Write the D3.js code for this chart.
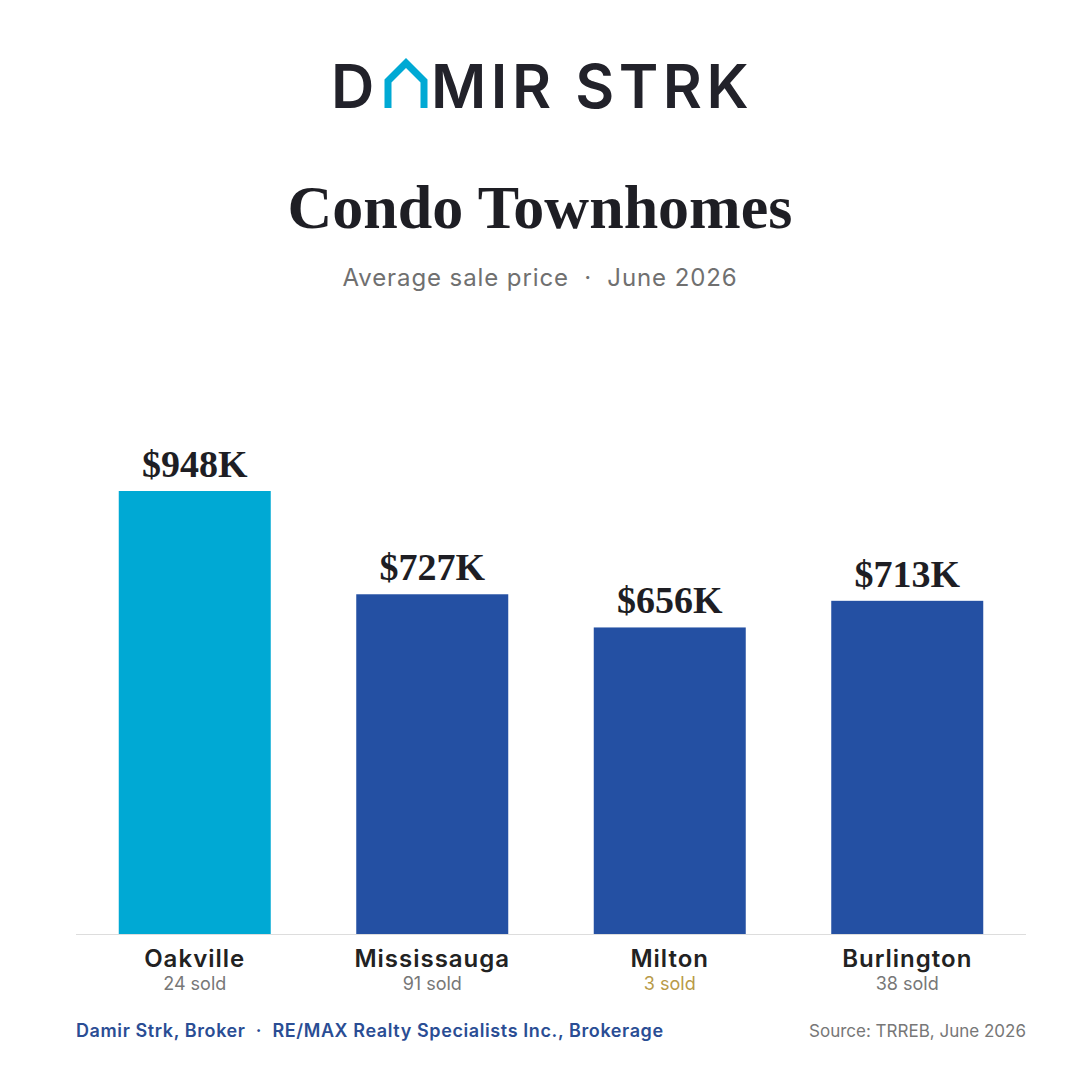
<!DOCTYPE html>
<html lang="en">
<head>
<meta charset="UTF-8">
<title>Condo Townhomes</title>
<script src="https://d3js.org/d3.v7.min.js"></script>
<style>
  body { margin: 0; background: #fff; }
  svg { display: block; }
</style>
</head>
<body>
<svg id="chart"></svg>
<script>
  // data
  var cities = ["Oakville", "Mississauga", "Milton", "Burlington"];
  var prices = [948, 727, 656, 713];        // average sale price, $K
  var soldCounts = [24, 91, 3, 38];
  var highlightCity = "Oakville";
  var lowSampleCity = "Milton";

  var W = 1080, H = 1080;
  var margin = { left: 76, right: 54, bottom: 146 };
  var serif = "'Liberation Serif', 'DejaVu Serif', serif";
  var sans = "'Inter', 'Noto Sans', sans-serif";
  var sep = "\u00a0\u00a0\u00b7\u00a0\u00a0";

  var svg = d3.select("#chart").attr("width", W).attr("height", H);
  svg.append("rect").attr("width", W).attr("height", H).attr("fill", "#fff");

  // logo: D + house shape + MIR STRK
  var logo = svg.append("g");
  logo.append("text")
      .attr("x", 331).attr("y", 108)
      .attr("font-family", sans).attr("font-weight", 600)
      .attr("font-size", 60).attr("fill", "#22222a")
      .text("D");
  logo.append("path")
      .attr("d", "M388,108 L388,81 L406,63 L424,81 L424,108")
      .attr("fill", "none").attr("stroke", "#00a9d4")
      .attr("stroke-width", 7).attr("stroke-linejoin", "miter");
  logo.append("text")
      .attr("x", 431).attr("y", 108)
      .attr("font-family", sans).attr("font-weight", 600)
      .attr("font-size", 60).attr("fill", "#22222a")
      .attr("letter-spacing", 4.5)
      .text("MIR STRK");

  // title
  svg.append("text")
      .attr("x", W / 2).attr("y", 228)
      .attr("text-anchor", "middle")
      .attr("font-family", serif).attr("font-weight", 700)
      .attr("font-size", 62).attr("fill", "#1e1e24")
      .text("Condo Townhomes");

  svg.append("text")
      .attr("x", W / 2).attr("y", 286)
      .attr("text-anchor", "middle")
      .attr("font-family", sans).attr("font-size", 24)
      .attr("letter-spacing", 0.9)
      .attr("fill", "#707070")
      .text("Average sale price" + sep + "June 2026");

  // scales
  var baseY = H - margin.bottom;
  var x = d3.scaleBand()
      .domain(cities)
      .range([margin.left, W - margin.right])
      .paddingInner(0.36)
      .paddingOuter(0.18);
  var y = d3.scaleLinear()
      .domain([0, d3.max(prices)])
      .range([baseY, 491]);

  var rows = cities.map(function (c, i) {
    return { city: c, price: prices[i], sold: soldCounts[i] };
  });

  // bars
  svg.selectAll(".bar")
      .data(rows)
    .enter().append("rect")
      .attr("class", "bar")
      .attr("x", function (d) { return x(d.city); })
      .attr("width", x.bandwidth())
      .attr("y", function (d) { return y(d.price); })
      .attr("height", function (d) { return baseY - y(d.price); })
      .attr("fill", function (d) { return d.city === highlightCity ? "#00a9d4" : "#2450a3"; });

  // value labels
  svg.selectAll(".value")
      .data(rows)
    .enter().append("text")
      .attr("class", "value")
      .attr("x", function (d) { return x(d.city) + x.bandwidth() / 2; })
      .attr("y", function (d) { return y(d.price) - 14; })
      .attr("text-anchor", "middle")
      .attr("font-family", serif).attr("font-weight", 700)
      .attr("font-size", 38).attr("fill", "#1e1e24")
      .text(function (d) { return "$" + d.price + "K"; });

  // baseline
  svg.append("line")
      .attr("x1", margin.left).attr("x2", W - margin.right)
      .attr("y1", baseY + 0.5).attr("y2", baseY + 0.5)
      .attr("stroke", "#dddddd").attr("stroke-width", 1);

  // category labels
  svg.selectAll(".city")
      .data(rows)
    .enter().append("text")
      .attr("class", "city")
      .attr("x", function (d) { return x(d.city) + x.bandwidth() / 2; })
      .attr("y", 967)
      .attr("text-anchor", "middle")
      .attr("font-family", sans).attr("font-weight", 600)
      .attr("font-size", 24).attr("letter-spacing", 1)
      .attr("fill", "#222")
      .text(function (d) { return d.city; });

  svg.selectAll(".sold")
      .data(rows)
    .enter().append("text")
      .attr("class", "sold")
      .attr("x", function (d) { return x(d.city) + x.bandwidth() / 2; })
      .attr("y", 990)
      .attr("text-anchor", "middle")
      .attr("font-family", sans).attr("font-size", 18)
      .attr("fill", function (d) { return d.city === lowSampleCity ? "#b89a48" : "#777"; })
      .text(function (d) { return d.sold + " sold"; });

  // footer
  svg.append("text")
      .attr("x", margin.left).attr("y", 1037)
      .attr("font-family", sans).attr("font-weight", 600)
      .attr("font-size", 18).attr("letter-spacing", 0.6)
      .attr("fill", "#2a4d94")
      .text("Damir Strk, Broker" + sep + "RE/MAX Realty Specialists Inc., Brokerage");

  svg.append("text")
      .attr("x", W - margin.right).attr("y", 1037)
      .attr("text-anchor", "end")
      .attr("font-family", sans).attr("font-size", 17)
      .attr("fill", "#777")
      .text("Source: TRREB, June 2026");
</script>
</body>
</html>
